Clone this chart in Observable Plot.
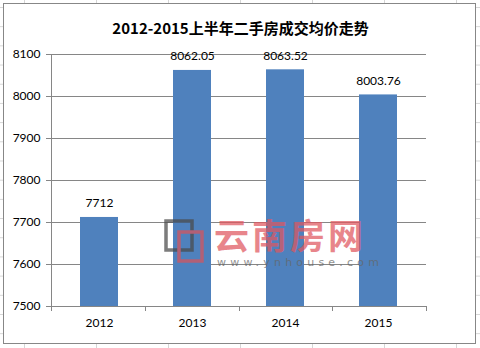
<!DOCTYPE html>
<html><head><meta charset="utf-8">
<script src="https://cdn.jsdelivr.net/npm/d3@7"></script>
<script src="https://cdn.jsdelivr.net/npm/@observablehq/plot@0.6"></script>
<style>
html,body{margin:0;padding:0;width:480px;height:348px;overflow:hidden;}
body{background-color:#fff;background-image:linear-gradient(to right,#d6d6d6 1px,transparent 1px),linear-gradient(to bottom,#d6d6d6 1px,transparent 1px);background-size:72px 19.2px;background-position:24px 7px;}
#chart{position:absolute;left:0;top:0;}
</style></head>
<body><div id="chart"></div>
<script>
const years = ["2012", "2013", "2014", "2015"];
const prices = [7712, 8062.05, 8063.52, 8003.76];
const priceLabels = ["7712", "8062.05", "8063.52", "8003.76"];
const yTicks = [7500, 7600, 7700, 7800, 7900, 8000, 8100];
const title = "2012-2015上半年二手房成交均价走势";
const watermarkName = "云南房网";
const watermarkUrl = "www.ynhouse.com";

const data = years.map((y, i) => ({year: y, price: prices[i], label: priceLabels[i]}));

const plot = Plot.plot({
  width: 480, height: 348,
  marginLeft: 51, marginRight: 54, marginTop: 54, marginBottom: 42,
  style: {background: "transparent", fontFamily: "Lato, 'Noto Sans', sans-serif", fontSize: "12px", color: "#000", overflow: "visible"},
  x: {domain: years, paddingInner: 0.595, paddingOuter: 0.2975, label: null},
  y: {domain: [7500, 8100], label: null},
  marks: [
    Plot.ruleY(yTicks, {stroke: "#868686", strokeOpacity: 1}),
    Plot.barY(data, {x: "year", y1: 7500, y2: "price", fill: "#4F81BD"}),
    Plot.text(data, {x: "year", y: "price", text: "label", dy: -14, fontSize: 12, fill: "#000"}),
    Plot.axisY(yTicks, {tickSize: 5, tickPadding: 6, stroke: "#868686", fill: "#000", fontSize: 12, label: null, tickFormat: d => String(d)}),
    Plot.axisX({tickSize: 0, tickPadding: 12, fill: "#000", fontSize: 12, label: null}),
    Plot.text([title], {frameAnchor: "top", dy: -31, dx: 1.5, fontSize: 15, fontWeight: "bold", fill: "#000", fontFamily: "'Noto Sans CJK SC', sans-serif"})
  ]
});

const svg = d3.select(plot);
const xs = plot.scale("x"), ys = plot.scale("y");
const x0 = xs.range[0], x1 = xs.range[1];
const step = (x1 - x0) / years.length;
const yTop = ys.apply(8100), yBot = ys.apply(7500);

// chart area white background + border (behind everything)
svg.insert("rect", ":first-child")
  .attr("x", 3.5).attr("y", 3.5).attr("width", 472).attr("height", 340)
  .attr("fill", "#fff").attr("stroke", "#878787").attr("stroke-width", 1);

// y axis line
svg.append("line").attr("x1", x0 + 0.5).attr("x2", x0 + 0.5).attr("y1", yTop).attr("y2", yBot + 0.5)
  .attr("stroke", "#868686");
// category boundary ticks
for (let i = 0; i <= years.length; i++) {
  const xx = Math.round(x0 + i * step) + 0.5;
  svg.append("line").attr("x1", xx).attr("x2", xx).attr("y1", yBot).attr("y2", yBot + 5).attr("stroke", "#868686");
}

// watermark
const wm = svg.append("g").attr("opacity", 0.72).attr("text-anchor", "start");
wm.append("rect").attr("x", 166).attr("y", 221).attr("width", 26).attr("height", 29)
  .attr("fill", "none").attr("stroke", "#4a4a4a").attr("stroke-width", 3.5);
wm.append("rect").attr("x", 179).attr("y", 232).attr("width", 23).attr("height", 29)
  .attr("fill", "none").attr("stroke", "#d9545c").attr("stroke-width", 3.5);
wm.append("text").attr("x", 214).attr("y", 249).text(watermarkName)
  .attr("font-family", "'Noto Sans CJK SC', sans-serif").attr("font-size", 35).attr("font-weight", "bold")
  .attr("letter-spacing", 3).attr("fill", "#e0575f");
wm.append("text").attr("x", 217).attr("y", 266).text(watermarkUrl)
  .attr("font-family", "'DejaVu Sans', sans-serif").attr("font-size", 11)
  .attr("letter-spacing", 4.2).attr("fill", "#666");

document.getElementById("chart").appendChild(plot);
</script>
</body></html>
